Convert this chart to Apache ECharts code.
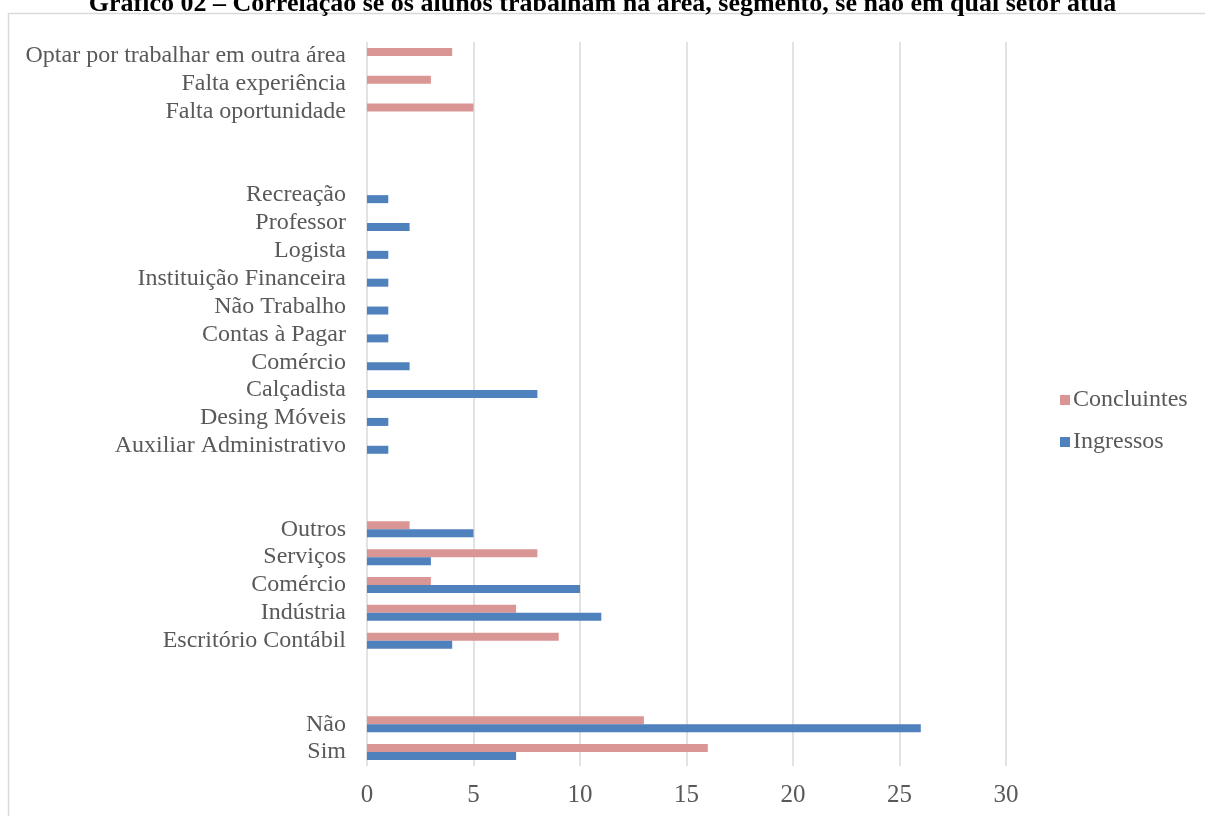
<!DOCTYPE html>
<html>
<head>
<meta charset="utf-8">
<script src="https://cdn.jsdelivr.net/npm/echarts@6/dist/echarts.min.js"></script>
<style>
  html, body { margin: 0; padding: 0; background: #fff; }
  #chart { width: 1205px; height: 816px; }
</style>
</head>
<body>
<div id="chart"></div>
<script>
// Categories listed bottom to top; empty strings leave gaps between groups
// (the second "Comércio" carries a trailing space so it stays a separate row)
const categories = [
  'Sim', 'Não', '', ' ',
  'Escritório Contábil', 'Indústria', 'Comércio', 'Serviços', 'Outros', '  ', '   ',
  'Auxiliar Administrativo', 'Desing Móveis', 'Calçadista', 'Comércio ', 'Contas à Pagar',
  'Não Trabalho', 'Instituição Financeira', 'Logista', 'Professor', 'Recreação', '    ', '     ',
  'Falta oportunidade', 'Falta experiência', 'Optar por trabalhar em outra área'
];
const ingressos = [
  7, 26, null, null,
  4, 11, 10, 3, 5, null, null,
  1, 1, 8, 2, 1,
  1, 1, 1, 2, 1, null, null,
  null, null, null
];
const concluintes = [
  16, 13, null, null,
  9, 7, 3, 8, 2, null, null,
  null, null, null, null, null,
  null, null, null, null, null, null, null,
  5, 3, 4
];
const xTicks = { min: 0, max: 30, interval: 5 };

const chart = echarts.init(document.getElementById('chart'));
const serif = 'Liberation Serif, Times New Roman, serif';
chart.setOption({
  animation: false,
  title: {
    text: 'Gráfico 02 – Correlação se os alunos trabalham na área, segmento, se não em qual setor atua',
    left: 'center',
    top: -14,
    textStyle: { fontFamily: serif, fontSize: 26, fontWeight: 'bold', color: '#000' }
  },
  graphic: [{
    type: 'rect',
    shape: { x: 8.5, y: 13.5, width: 1220, height: 830 },
    style: { fill: 'none', stroke: '#d9d9d9', lineWidth: 1.5 },
    silent: true
  }],
  legend: {
    orient: 'vertical',
    left: 1055,
    top: 383,
    itemWidth: 10,
    itemHeight: 10,
    itemGap: 18,
    icon: 'rect',
    data: ['Concluintes', 'Ingressos'],
    textStyle: { fontFamily: serif, fontSize: 24, color: '#595959', padding: [0, 0, 0, -2] }
  },
  grid: { left: 367, right: 199, top: 42, bottom: 50, containLabel: false },
  xAxis: {
    type: 'value',
    min: xTicks.min, max: xTicks.max, interval: xTicks.interval,
    axisLine: { show: false },
    axisTick: { show: false },
    axisLabel: { fontFamily: serif, fontSize: 25, color: '#595959', margin: 17 },
    splitLine: { show: true, lineStyle: { color: '#d9d9d9', width: 1.5 } }
  },
  yAxis: {
    type: 'category',
    data: categories,
    axisLine: { show: false },
    axisTick: { show: false },
    axisLabel: {
      fontFamily: serif, fontSize: 24, color: '#595959', margin: 21, interval: 0,
      formatter: (v) => v.trim()
    }
  },
  series: [
    {
      name: 'Concluintes', type: 'bar', data: concluintes,
      barWidth: 8, barGap: '0%',
      itemStyle: { color: '#DA9694' }
    },
    {
      name: 'Ingressos', type: 'bar', data: ingressos,
      barWidth: 8, barGap: '0%',
      itemStyle: { color: '#4F81BD' }
    }
  ]
});
</script>
</body>
</html>
